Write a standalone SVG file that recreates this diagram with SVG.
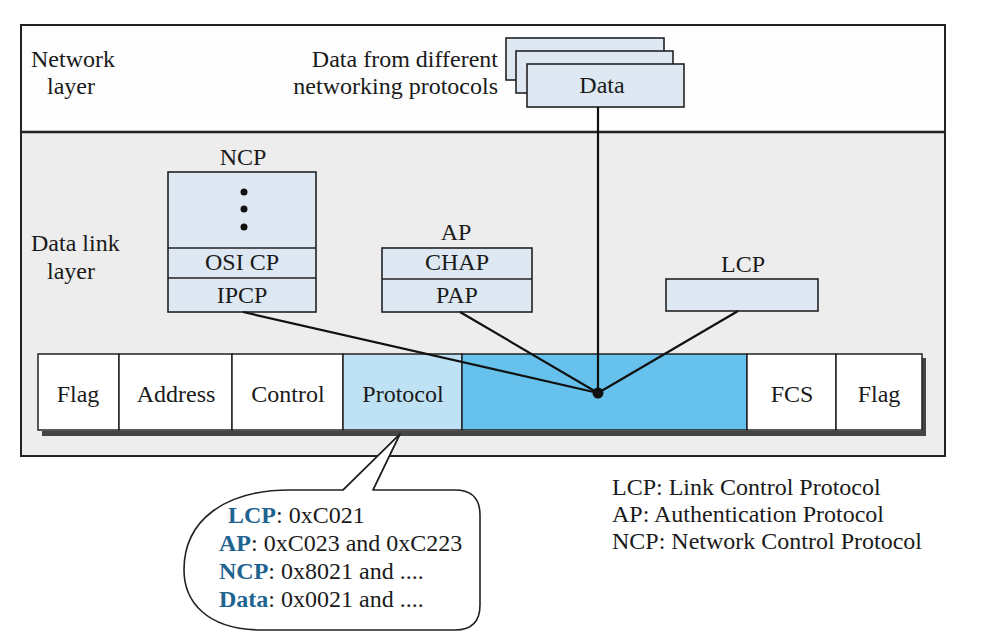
<svg xmlns="http://www.w3.org/2000/svg" width="984" height="644" viewBox="0 0 984 644">
<style>
text{font-family:"Liberation Serif","Times New Roman",serif;font-size:24px;fill:#1a1a1a}
.c{text-anchor:middle}
.e{text-anchor:end}
.box{fill:#dde8f2;stroke:#222;stroke-width:1.6}
.cell{fill:#ffffff;stroke:#222;stroke-width:1.5}
.ln{stroke:#111;stroke-width:2.2;fill:none}
.k{font-weight:bold;fill:#1f6391}
</style>
<rect width="984" height="644" fill="#ffffff"/>
<g id="layers">
<rect x="21" y="25" width="924" height="107" fill="#fdfdfd"/>
<rect x="21" y="132" width="924" height="324" fill="#ededed"/>
<rect x="21" y="25" width="924" height="431" fill="none" stroke="#222" stroke-width="2"/>
<line x1="21" y1="132" x2="945" y2="132" stroke="#222" stroke-width="2.4"/>
<text x="31" y="67">Network</text>
<text x="47" y="94">layer</text>
<text x="31" y="251">Data link</text>
<text x="47" y="279">layer</text>
</g>
<g id="data">
<text class="e" x="498" y="67">Data from different</text>
<text class="e" x="498" y="94">networking protocols</text>
<rect class="box" x="506" y="38" width="158" height="42"/>
<rect class="box" x="516" y="51" width="157" height="42"/>
<rect class="box" x="527" y="64" width="157" height="43"/>
<text class="c" x="602" y="93">Data</text>
</g>
<g id="ncp">
<text class="c" x="243" y="165">NCP</text>
<rect class="box" x="168" y="172" width="148" height="140"/>
<line x1="168" y1="248" x2="316" y2="248" stroke="#222" stroke-width="1.6"/>
<line x1="168" y1="278" x2="316" y2="278" stroke="#222" stroke-width="1.6"/>
<circle cx="244" cy="192" r="3.5" fill="#111"/>
<circle cx="244" cy="209" r="3.5" fill="#111"/>
<circle cx="244" cy="227" r="3.5" fill="#111"/>
<text class="c" x="242" y="270">OSI CP</text>
<text class="c" x="242" y="303">IPCP</text>
</g>
<g id="ap">
<text class="c" x="456" y="240">AP</text>
<rect class="box" x="382" y="248" width="150" height="64"/>
<line x1="382" y1="279" x2="532" y2="279" stroke="#222" stroke-width="1.6"/>
<text class="c" x="457" y="270">CHAP</text>
<text class="c" x="457" y="303">PAP</text>
</g>
<g id="lcp">
<text class="c" x="743" y="272">LCP</text>
<rect class="box" x="666" y="279" width="152" height="32"/>
</g>
<g id="frame">
<rect x="42" y="431" width="883" height="5" fill="#444"/>
<rect x="922" y="358" width="4" height="78" fill="#444"/>
<rect class="cell" x="38" y="354" width="81" height="76"/>
<rect class="cell" x="119" y="354" width="113" height="76"/>
<rect class="cell" x="232" y="354" width="111" height="76"/>
<rect class="cell" x="343" y="354" width="119" height="76" style="fill:#bfe1f4"/>
<rect class="cell" x="462" y="354" width="285" height="76" style="fill:#66c2ec"/>
<rect class="cell" x="747" y="354" width="89" height="76"/>
<rect class="cell" x="836" y="354" width="86" height="76"/>
<text class="c" x="78" y="402">Flag</text>
<text class="c" x="176" y="402">Address</text>
<text class="c" x="288" y="402">Control</text>
<text class="c" x="403" y="402">Protocol</text>
<text class="c" x="792" y="402">FCS</text>
<text class="c" x="879" y="402">Flag</text>
</g>
<g id="connectors">
<line class="ln" x1="243" y1="312" x2="598" y2="393"/>
<line class="ln" x1="460" y1="312" x2="598" y2="393"/>
<line class="ln" x1="598" y1="107" x2="598" y2="393"/>
<line class="ln" x1="738" y1="311" x2="598" y2="393"/>
<circle cx="598" cy="393" r="5.5" fill="#111"/>
</g>
<g id="bubble">
<path d="M373,490 L455,490 Q480,490 480,515 L480,605 Q480,630 455,630 L262,630 C205,630 184,600 184,570 C184,520 225,490 290,490 L343,490 L400,434 Z" fill="#ffffff" stroke="#222" stroke-width="1.6" stroke-linejoin="round"/>
<path d="M343,490 L400,434 L373,490" fill="none" stroke="#222" stroke-width="1.6"/>
<text x="228" y="523"><tspan class="k">LCP</tspan>: 0xC021</text>
<text x="219" y="551"><tspan class="k">AP</tspan>: 0xC023 and 0xC223</text>
<text x="219" y="579"><tspan class="k">NCP</tspan>: 0x8021 and ....</text>
<text x="219" y="607"><tspan class="k">Data</tspan>: 0x0021 and ....</text>
</g>
<g id="legend">
<text x="612" y="495">LCP:  Link Control Protocol</text>
<text x="612" y="522">AP:  Authentication Protocol</text>
<text x="612" y="549">NCP:  Network Control Protocol</text>
</g>
</svg>
